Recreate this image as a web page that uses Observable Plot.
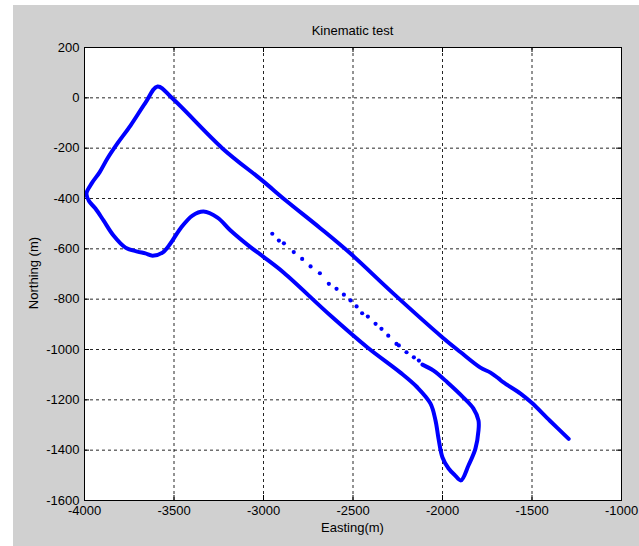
<!DOCTYPE html>
<html>
<head>
<meta charset="utf-8">
<script src="https://cdn.jsdelivr.net/npm/d3@7"></script>
<script src="https://cdn.jsdelivr.net/npm/@observablehq/plot@0.6"></script>
<style>
  html, body { margin: 0; padding: 0; background: #ffffff; }
  #fig { position: relative; width: 639px; height: 546px; overflow: hidden; font-family: Arial, "Liberation Sans", sans-serif; }
  #bg { position: absolute; left: 13px; top: 5px; width: 626px; height: 541px; background: #d0d0d0; }
  #chart { position: absolute; left: 0; top: 0; }
  .lbl { position: absolute; font-size: 13px; color: #000; white-space: nowrap; }
</style>
</head>
<body>
<div id="fig">
  <div id="bg"></div>
  <div id="chart"></div>
  <div class="lbl" id="title" style="left:84px; width:537px; top:23px; text-align:center;">Kinematic test</div>
  <div class="lbl" id="xlabel" style="left:84px; width:537px; top:520px; text-align:center;">Easting(m)</div>
  <div class="lbl" id="ylabel" style="left:33px; top:273px; transform: translate(-50%,-50%) rotate(-90deg);">Northing (m)</div>
</div>
<script>
// Axis ticks
const xTicks = [-4000, -3500, -3000, -2500, -2000, -1500, -1000];
const yTicks = [200, 0, -200, -400, -600, -800, -1000, -1200, -1400, -1600];

// Dense continuous track (easting, northing in m)
const trackEasting = [
  -1295, -1400, -1503, -1564, -1659, -1687, -1732, -1788, -1900, -2000,
  -2274, -2514, -2681, -2875, -3006, -3229, -3508, -3592, -3659, -3743,
  -3816, -3872, -3915, -3960, -3989, -3975, -3939, -3894, -3838, -3771,
  -3704, -3660, -3620, -3564, -3520, -3464, -3397, -3335, -3257, -3184,
  -3073, -3000, -2888, -2626, -2419, -2235, -2140, -2067, -2039, -2022,
  -2000, -1966, -1930, -1897, -1855, -1816, -1799, -1799, -1827, -1883,
  -1972, -2050, -2112
];
const trackNorthing = [
  -1355, -1283, -1211, -1175, -1131, -1115, -1092, -1072, -1010, -952,
  -778, -619, -519, -408, -329, -201, -3, 45, -19, -110,
  -181, -241, -295, -340, -380, -410, -440, -487, -547, -595,
  -611, -618, -627, -615, -579, -519, -468, -452, -476, -527,
  -593, -632, -694, -865, -992, -1092, -1151, -1215, -1282, -1355,
  -1429, -1473, -1500, -1520, -1461, -1394, -1322, -1282, -1235, -1191,
  -1131, -1084, -1060
];

// Sparse dotted section
const sparseEasting = [
  -2951, -2914, -2886, -2831, -2784, -2737, -2685, -2635, -2592, -2551,
  -2514, -2480, -2449, -2417, -2374, -2341, -2303, -2257, -2244, -2201,
  -2160, -2132
];
const sparseNorthing = [
  -540, -567, -578, -613, -640, -670, -697, -739, -759, -782,
  -805, -829, -856, -869, -898, -918, -945, -978, -984, -1011,
  -1031, -1044
];

const track = trackEasting.map((e, i) => ({e, n: trackNorthing[i]}));
const sparse = sparseEasting.map((e, i) => ({e, n: sparseNorthing[i]}));

const W = 639, H = 546, mL = 84, mR = 18, mT = 47, mB = 46;
const plotW = W - mL - mR, plotH = H - mT - mB;

const chart = Plot.plot({
  width: W,
  height: H,
  marginLeft: mL,
  marginRight: mR,
  marginTop: mT,
  marginBottom: mB,
  style: {background: "transparent", fontFamily: "Arial, 'Liberation Sans', sans-serif", fontSize: "13px", color: "#000"},
  x: {domain: [xTicks[0], xTicks[xTicks.length - 1]], ticks: xTicks, tickSize: 0, tickPadding: 5, label: null, tickFormat: d => String(d)},
  y: {domain: [yTicks[yTicks.length - 1], yTicks[0]], ticks: yTicks, tickSize: 0, tickPadding: 5, label: null, tickFormat: d => String(d)},
  marks: [
    Plot.frame({fill: "#ffffff", stroke: null}),
    Plot.ruleX(xTicks.slice(1, -1), {stroke: "#000", strokeOpacity: 0.85, strokeDasharray: "3,3"}),
    Plot.ruleY(yTicks.slice(1, -1), {stroke: "#000", strokeOpacity: 0.85, strokeDasharray: "3,3"}),
    Plot.ruleX(xTicks, {stroke: "#000", insetTop: plotH - 5}),
    Plot.ruleX(xTicks, {stroke: "#000", insetBottom: plotH - 5}),
    Plot.ruleY(yTicks, {stroke: "#000", insetLeft: plotW - 5}),
    Plot.ruleY(yTicks, {stroke: "#000", insetRight: plotW - 5}),
    Plot.line(track, {x: "e", y: "n", stroke: "#0000ff", strokeWidth: 4, strokeLinejoin: "round", strokeLinecap: "round", curve: "catmull-rom"}),
    Plot.dot(sparse, {x: "e", y: "n", r: 2.1, fill: "#0000ff", stroke: null}),
    Plot.frame({stroke: "#000", strokeWidth: 1})
  ]
});
document.getElementById("chart").appendChild(chart);
</script>
</body>
</html>
